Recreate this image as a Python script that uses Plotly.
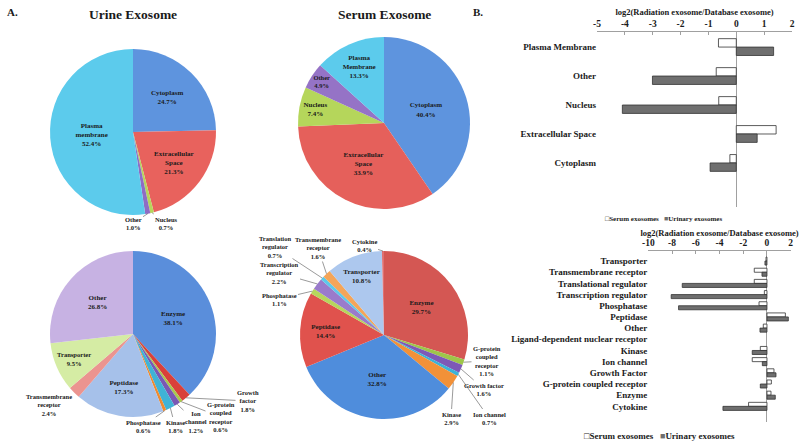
import numpy as np
import plotly.graph_objects as go

W, H = 800, 446

# ---------------- data ----------------
loc_labels_urine = ["Cytoplasm", "Extracellular Space", "Nucleus", "Other", "Plasma membrane"]
loc_values_urine = [24.7, 21.3, 0.7, 1.0, 52.4]

loc_labels_serum = ["Cytoplasm", "Extracellular Space", "Nucleus", "Other", "Plasma Membrane"]
loc_values_serum = [40.4, 33.9, 7.4, 4.9, 13.3]

type_labels_urine = ["Enzyme", "Growth factor", "G-protein coupled receptor", "Ion channel", "Kinase",
                     "Phosphatase", "Peptidase", "Transmembrane receptor", "Transporter", "Other"]
type_values_urine = [38.1, 1.8, 0.6, 1.2, 1.8, 0.6, 17.3, 2.4, 9.5, 26.8]

type_labels_serum = ["Enzyme", "G-protein coupled receptor", "Growth factor", "Ion channel", "Kinase",
                     "Other", "Peptidase", "Phosphatase", "Transcription regulator", "Translation regulator",
                     "Transmembrane receptor", "Transporter", "Cytokine"]
type_values_serum = [29.7, 1.1, 1.6, 0.7, 2.9, 32.8, 14.4, 1.1, 2.2, 0.7, 1.6, 10.8, 0.4]

loc_categories = ["Plasma Membrane", "Other", "Nucleus", "Extracellular Space", "Cytoplasm"]
loc_serum_log2 = [-0.64, -0.72, -0.63, 1.43, -0.23]
loc_urine_log2 = [1.34, -3.01, -4.09, 0.75, -0.94]

type_categories = ["Transporter", "Transmembrane receptor", "Translational regulator",
                   "Transcription regulator", "Phosphatase", "Peptidase", "Other",
                   "Ligand-dependent nuclear receptor", "Kinase", "Ion channel", "Growth Factor",
                   "G-protein coupled receptor", "Enzyme", "Cytokine"]
type_serum_log2 = [-0.08, -1.07, -1.07, -0.22, -0.67, 1.55, -0.31, None, -0.56, -1.24, 0.59, 0.37, 0.34, -1.55]
type_urine_log2 = [-0.17, -0.42, -7.14, -8.07, -7.45, 1.80, -0.59, None, -1.24, -0.39, 0.76, -0.56, 0.70, -3.71]

loc_ticks = [-5, -4, -3, -2, -1, 0, 1, 2]
loc_ticktext = ["-5", "-4", "-3", "-2", "-1", "0", "1", "2"]
type_ticks = [-10, -8, -6, -4, -2, 0, 2]
type_ticktext = ["-10", "-8", "-6", "-4", "-2", "0", "2"]

# ---------------- styles ----------------
SERIF = "Liberation Serif"
INK = "#1a1a1a"

loc_colors_urine = ["#5e94de", "#e8625d", "#b6d65c", "#8f6cc4", "#5ccbec"]
loc_colors_serum = ["#5e94de", "#e5605b", "#b5d65b", "#9573c6", "#5ccbec"]
type_colors_urine = ["#5a8edb", "#d9403a", "#a9c94d", "#7a58b3", "#3fb3d6", "#f08a2e",
                     "#a6c1ea", "#eb9490", "#d5eca4", "#c7b2e3"]
type_colors_serum = ["#d45753", "#9ec649", "#7d59b7", "#3cb3d7", "#f29138", "#4f8ddc",
                     "#e0524d", "#b6d65c", "#9a7bcb", "#5cc9ea", "#f4a559", "#adc8ee", "#e07070"]

# pie geometry in pixels: centre x, centre y, radius
GEOM = {
    "urine_loc": (133, 132, 83),
    "serum_loc": (384, 123, 86),
    "urine_type": (133, 334, 83),
    "serum_type": (384, 335, 84),
}

def domain(key):
    cx, cy, r = GEOM[key]
    return dict(x=[(cx - r) / W, (cx + r) / W], y=[1 - (cy + r) / H, 1 - (cy - r) / H])

def display(lbls):
    return [l.replace(" ", "<br>") for l in lbls]

fig = go.Figure()

def add_pie(key, labels, values, colors, inside):
    pos = ["inside" if l in inside else "none" for l in labels]
    fig.add_trace(go.Pie(
        labels=labels, values=values, text=display(labels),
        texttemplate="%{text}<br>%{value:.1f}%", textposition=pos,
        insidetextorientation="horizontal",
        textfont=dict(family=SERIF, size=7, color=INK, weight="bold"),
        marker=dict(colors=colors, line=dict(width=0)),
        sort=False, direction="clockwise", rotation=0,
        domain=domain(key), showlegend=False, hoverinfo="label+percent",
    ))

add_pie("urine_loc", loc_labels_urine, loc_values_urine, loc_colors_urine,
        {"Cytoplasm", "Extracellular Space", "Plasma membrane"})
add_pie("serum_loc", loc_labels_serum, loc_values_serum, loc_colors_serum, set(loc_labels_serum))
add_pie("urine_type", type_labels_urine, type_values_urine, type_colors_urine,
        {"Enzyme", "Peptidase", "Transporter", "Other"})
add_pie("serum_type", type_labels_serum, type_values_serum, type_colors_serum,
        {"Enzyme", "Peptidase", "Transporter", "Other"})

# ---------------- bar charts ----------------
SERUM_STYLE = dict(color="white", line=dict(color="#333333", width=0.8))
URINE_STYLE = dict(color="#6f6f6f", line=dict(color="#333333", width=0.8))

w1 = 0.29
fig.add_trace(go.Bar(y=loc_categories, x=loc_serum_log2, orientation="h", marker=SERUM_STYLE,
                     width=w1, offset=-w1, xaxis="x", yaxis="y", name="Serum exosomes"))
fig.add_trace(go.Bar(y=loc_categories, x=loc_urine_log2, orientation="h", marker=URINE_STYLE,
                     width=w1, offset=0, xaxis="x", yaxis="y", name="Urinary exosomes"))
w2 = 0.36
fig.add_trace(go.Bar(y=type_categories, x=type_serum_log2, orientation="h", marker=SERUM_STYLE,
                     width=w2, offset=-w2, xaxis="x2", yaxis="y2", name="Serum exosomes"))
fig.add_trace(go.Bar(y=type_categories, x=type_urine_log2, orientation="h", marker=URINE_STYLE,
                     width=w2, offset=0, xaxis="x2", yaxis="y2", name="Urinary exosomes"))

tickfont = dict(family=SERIF, size=9.5, color=INK, weight="bold")
catfont = dict(family=SERIF, size=9, color=INK, weight="bold")
titlefont = dict(family=SERIF, size=8.5, color=INK, weight="bold")

xcommon = dict(side="top", showgrid=False, showline=True, linecolor="#a0a0a0", linewidth=1,
               ticks="inside", ticklen=3, tickcolor="#a0a0a0", zeroline=True,
               zerolinecolor="#a0a0a0", zerolinewidth=1, tickfont=tickfont, automargin=False)

fig.update_layout(
    template="none",
    width=W, height=H, margin=dict(l=0, r=0, t=0, b=0, autoexpand=False),
    paper_bgcolor="white", plot_bgcolor="rgba(0,0,0,0)",
    showlegend=False, barmode="overlay",
    xaxis=dict(domain=[597 / W, 792 / W], range=[-5, 2], tickvals=loc_ticks, ticktext=loc_ticktext,
               anchor="y",
               title=dict(text="log2(Radiation exosome/Database exosome)", font=titlefont, standoff=2),
               **xcommon),
    yaxis=dict(domain=[1 - 207 / H, 1 - 32 / H], type="category", categoryorder="array",
               categoryarray=loc_categories, range=[5.52, -0.52], showgrid=False, showline=False,
               zeroline=False, ticks="", tickfont=catfont, anchor="x", automargin=False),
    xaxis2=dict(domain=[648.3 / W, 790.7 / W], range=[-10, 2], tickvals=type_ticks,
                ticktext=type_ticktext, anchor="y2",
                title=dict(text="log2(Radiation exosome/Database exosome)", font=titlefont, standoff=0),
                **xcommon),
    yaxis2=dict(domain=[1 - 422 / H, 1 - 251 / H], type="category", categoryorder="array",
                categoryarray=type_categories, range=[14.4, -0.9], showgrid=False, showline=False,
                zeroline=False, ticks="", tickfont=catfont, anchor="x2", automargin=False),
)

# ---------------- annotations ----------------
ann = []

def txt(text, x, y, size, **kw):
    ann.append(dict(text=text, x=x / W, y=1 - y / H, xref="paper", yref="paper", showarrow=False,
                    xanchor="center", yanchor="middle",
                    font=dict(family=SERIF, size=size, color=INK, weight="bold"), **kw))

txt("A.", 12, 12, 11)
txt("B.", 478, 12, 11)
txt("Urine Exosome", 133, 15, 13.5)
txt("Serum Exosome", 384, 15, 13.5)

def slice_edge(key, values, idx):
    cx, cy, r = GEOM[key]
    v = np.asarray(values, float)
    mid = np.cumsum(v) - v / 2
    th = 2 * np.pi * mid[idx] / v.sum()
    return cx + r * np.sin(th), cy - r * np.cos(th)

def callout(key, labels, values, name, text, tx, ty, arrow=True):
    px, py = slice_edge(key, values, labels.index(name))
    font = dict(family=SERIF, size=6.5, color=INK, weight="bold")
    if arrow:
        ann.append(dict(text=text, x=px / W, y=1 - py / H, xref="paper", yref="paper",
                        ax=tx - px, ay=ty - py, showarrow=True, arrowhead=0, arrowwidth=0.6,
                        arrowcolor="#555555", font=font, align="center"))
    else:
        ann.append(dict(text=text, x=tx / W, y=1 - ty / H, xref="paper", yref="paper",
                        xanchor="center", yanchor="middle",
                        showarrow=False, font=font, align="center"))

def pct(values, labels, name):
    return "%.1f%%" % values[labels.index(name)]

# urine location pie
for name, tx, ty in [("Other", 133, 223), ("Nucleus", 166, 223)]:
    callout("urine_loc", loc_labels_urine, loc_values_urine, name,
            name + "<br>" + pct(loc_values_urine, loc_labels_urine, name), tx, ty)

# urine type pie
U = (type_labels_urine, type_values_urine)
def up(name):
    return pct(type_values_urine, type_labels_urine, name)
callout("urine_type", *U, "Growth factor", "Growth<br>factor<br>" + up("Growth factor"), 248, 401)
callout("urine_type", *U, "G-protein coupled receptor",
        "G-protein<br>coupled<br>receptor<br>" + up("G-protein coupled receptor"), 221, 417)
callout("urine_type", *U, "Ion channel", "Ion<br>channel<br>" + up("Ion channel"), 196, 422)
callout("urine_type", *U, "Kinase", "Kinase<br>" + up("Kinase"), 175, 426)
callout("urine_type", *U, "Phosphatase", "Phosphatase<br>" + up("Phosphatase"), 143, 426)
callout("urine_type", *U, "Transmembrane receptor",
        "Transmembrane<br>receptor<br>" + up("Transmembrane receptor"), 49, 405, arrow=False)

# serum type pie
S = (type_labels_serum, type_values_serum)
def sp(name):
    return pct(type_values_serum, type_labels_serum, name)
callout("serum_type", *S, "G-protein coupled receptor", "G-protein<br>coupled<br>receptor<br>" + sp("G-protein coupled receptor"), 487, 361)
callout("serum_type", *S, "Growth factor", "Growth factor<br>" + sp("Growth factor"), 484, 389)
callout("serum_type", *S, "Ion channel", "Ion channel<br>" + sp("Ion channel"), 489, 418)
callout("serum_type", *S, "Kinase", "Kinase<br>" + sp("Kinase"), 451, 418)
callout("serum_type", *S, "Phosphatase", "Phosphatase<br>" + sp("Phosphatase"), 279, 299)
callout("serum_type", *S, "Transcription regulator", "Transcription<br>regulator<br>" + sp("Transcription regulator"), 279, 273)
callout("serum_type", *S, "Translation regulator", "Translation<br>regulator<br>" + sp("Translation regulator"), 275, 247)
callout("serum_type", *S, "Transmembrane receptor", "Transmembrane<br>receptor<br>" + sp("Transmembrane receptor"), 318, 248)
callout("serum_type", *S, "Cytokine", "Cytokine<br>" + sp("Cytokine"), 364, 245)

# legends (compact, as in the original)
legend_text = "□Serum exosomes   <span style='color:#6f6f6f'>■</span>Urinary exosomes"
txt(legend_text, 663, 219, 7)
txt(legend_text, 659, 436, 9)

fig.update_layout(annotations=ann)
# remove the browser's default 8px body margin so the 800x446 figure fills the window exactly
fig.write_html("out.html", config={"displayModeBar": False},
               post_script="document.body.style.margin='0';")
